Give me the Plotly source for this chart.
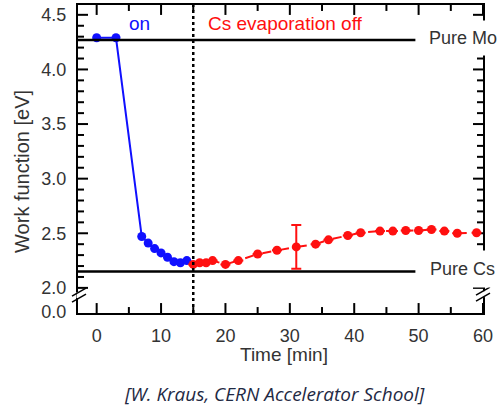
import plotly.graph_objects as go

# ---- data ----
t_on = [0, 3, 7, 8, 9, 10, 11, 12, 13, 14]
wf_on = [4.29, 4.29, 2.47, 2.41, 2.36, 2.32, 2.28, 2.24, 2.23, 2.25]

t_off = [15, 16, 17, 18, 20, 22, 25, 28, 31, 34, 36, 39, 41, 44, 46, 48, 50, 52, 54, 56, 59]
wf_off = [2.215, 2.23, 2.23, 2.25, 2.215, 2.25, 2.31, 2.345, 2.375, 2.40, 2.44, 2.48,
          2.505, 2.52, 2.52, 2.525, 2.525, 2.535, 2.52, 2.50, 2.505]
err_off = [0, 0, 0, 0, 0, 0, 0, 0, 0.2, 0, 0, 0, 0, 0, 0, 0, 0, 0, 0, 0, 0]

pure_mo = 4.27
pure_cs = 2.15
switch_time = 15

x_ticks = [0, 10, 20, 30, 40, 50, 60]
x_minor = [5, 15, 25, 35, 45, 55]
y_tickvals = [1.78, 2.0, 2.5, 3.0, 3.5, 4.0, 4.5]
y_ticktext = ["0.0", "2.0", "2.5", "3.0", "3.5", "4.0", "4.5"]
y_major = [2.0, 2.5, 3.0, 3.5, 4.0, 4.5]
y_minor = [2.1, 2.2, 2.3, 2.4, 2.6, 2.7, 2.8, 2.9, 3.1, 3.2, 3.3, 3.4,
           3.6, 3.7, 3.8, 3.9, 4.1, 4.2, 4.3, 4.4]

XR = [-2.9, 60]
YR = [1.77, 4.59]

W, H = 499, 412
ML, MR, MT, MB = 78, 16, 3, 99
PW = W - ML - MR
PH = H - MT - MB
DX = (XR[1] - XR[0]) / PW   # data units per pixel
DY = (YR[1] - YR[0]) / PH

FONT = "Liberation Sans"
TXT = "#333333"

fig = go.Figure()

# inside tick marks on all four sides, built from the tick lists
tx, ty = [], []
for vals, ln in ((x_ticks, 10), (x_minor, 6)):
    for v in vals:
        tx += [v, v, None, v, v, None]
        ty += [YR[0], YR[0] + ln * DY, None, YR[1], YR[1] - ln * DY, None]
for vals, ln in ((y_major, 10), (y_minor, 6)):
    for v in vals:
        tx += [XR[0], XR[0] + ln * DX, None, XR[1], XR[1] - ln * DX, None]
        ty += [v, v, None, v, v, None]
fig.add_trace(go.Scatter(x=tx, y=ty, mode="lines", line=dict(color="black", width=2),
                         connectgaps=False, hoverinfo="skip", showlegend=False, cliponaxis=False))

fig.add_trace(go.Scatter(
    x=t_on, y=wf_on, mode="lines+markers",
    line=dict(color="#1010ff", width=2),
    marker=dict(color="#1010ff", size=9),
    showlegend=False, cliponaxis=False))

fig.add_trace(go.Scatter(
    x=t_off, y=wf_off, mode="lines+markers",
    line=dict(color="#ff1010", width=2, dash="dash"),
    marker=dict(color="#ff1010", size=9),
    error_y=dict(type="data", array=err_off, color="#ff1010", thickness=2, width=5),
    showlegend=False, cliponaxis=False))


def xp(v):
    return (v - XR[0]) / (XR[1] - XR[0])


def yp(v):
    return (v - YR[0]) / (YR[1] - YR[0])


def px2paper(px, py):
    return (px - ML) / PW, (H - MB - py) / PH


shapes = []
# reference lines
for yv in (pure_mo, pure_cs):
    shapes.append(dict(type="line", xref="paper", yref="paper", x0=0, x1=xp(49.5),
                       y0=yp(yv), y1=yp(yv), line=dict(color="black", width=2.5), layer="above"))
# dotted switch line
shapes.append(dict(type="line", xref="paper", yref="paper", x0=xp(switch_time), x1=xp(switch_time),
                   y0=0, y1=1, line=dict(color="black", width=2.5, dash="dot"), layer="above"))

# axis break marks
for cx, cy in ((79, 295), (483, 294)):
    x0, y0 = px2paper(cx - 2.5, cy + 3)
    x1, y1 = px2paper(cx + 2.5, cy - 3)
    shapes.append(dict(type="rect", xref="paper", yref="paper", x0=x0, x1=x1, y0=y0, y1=y1,
                       fillcolor="white", line=dict(width=0), layer="above"))
    for dy in (-3, 3):
        a0, b0 = px2paper(cx - 7, cy + dy + 4)
        a1, b1 = px2paper(cx + 7, cy + dy - 4)
        shapes.append(dict(type="line", xref="paper", yref="paper", x0=a0, x1=a1, y0=b0, y1=b1,
                           line=dict(color="black", width=1.5), layer="above"))

annotations = [
    dict(x=6.7, y=4.42, xref="x", yref="y", text="on", showarrow=False,
         xanchor="center", yanchor="middle",
         font=dict(family=FONT, size=19, color="#1010ff")),
    dict(x=17.0, y=4.42, xref="x", yref="y", text="Cs evaporation off", showarrow=False,
         xanchor="left", yanchor="middle", font=dict(family=FONT, size=19, color="#ff1010")),
    dict(x=50.4, y=4.285, xref="x", yref="y", text="Pure Mo", showarrow=False,
         xanchor="left", yanchor="middle", bgcolor="white", borderpad=7,
         font=dict(family=FONT, size=18, color=TXT)),
    dict(x=50.4, y=2.175, xref="x", yref="y", text="Pure Cs", showarrow=False,
         xanchor="left", yanchor="middle", bgcolor="white", borderpad=8,
         font=dict(family=FONT, size=18, color=TXT)),
    dict(x=(284 - ML) / PW, y=(H - MB - 355) / PH, xref="paper", yref="paper", text="Time [min]",
         showarrow=False, xanchor="center", yanchor="middle",
         font=dict(family=FONT, size=19, color=TXT)),
    dict(x=(22 - ML) / PW, y=(H - MB - 171) / PH, xref="paper", yref="paper",
         text="Work function [eV]", textangle=-90, showarrow=False,
         xanchor="center", yanchor="middle",
         font=dict(family=FONT, size=20, color=TXT)),
    dict(x=(274 - ML) / PW, y=(H - MB - 395) / PH, xref="paper", yref="paper",
         text="<i>[W. Kraus, CERN Accelerator School]</i>", showarrow=False,
         xanchor="center", yanchor="middle",
         font=dict(family="Open Sans", size=19, color="#1f2a44")),
]

fig.update_layout(
    width=W, height=H,
    margin=dict(l=ML, r=MR, t=MT, b=MB, pad=0),
    paper_bgcolor="white", plot_bgcolor="white",
    font=dict(family=FONT, size=18, color=TXT),
    shapes=shapes, annotations=annotations,
    xaxis=dict(range=XR, showgrid=False, zeroline=False, showline=True, linecolor="black",
               linewidth=2, mirror=True, ticks="", tickmode="array", tickvals=x_ticks,
               ticklabelstandoff=5, tickfont=dict(family=FONT, size=18, color=TXT)),
    yaxis=dict(range=YR, showgrid=False, zeroline=False, showline=True, linecolor="black",
               linewidth=2, mirror=True, ticks="", tickmode="array", tickvals=y_tickvals,
               ticktext=y_ticktext, ticklabelstandoff=6,
               tickfont=dict(family=FONT, size=18, color=TXT)),
)

fig.write_html("out.html")
